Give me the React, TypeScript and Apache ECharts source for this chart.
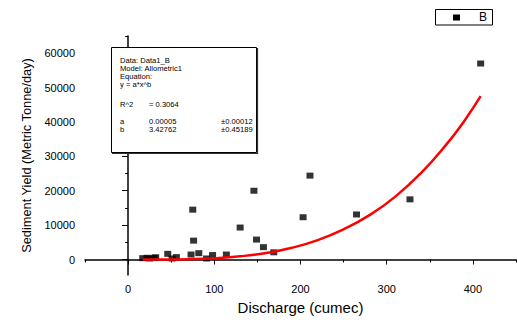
import React, { useEffect, useRef } from "react";
import * as echarts from "echarts";

// Scatter data: [discharge, sediment yield]
const discharge = [17, 22, 25, 30, 32, 46, 51, 56, 73, 75, 76, 82, 91, 98, 114, 130, 146, 149, 157, 169, 203, 211, 265, 327, 409];
const sediment = [400, 500, 300, 500, 650, 1650, 300, 700, 1450, 14500, 5500, 1850, 300, 1300, 1450, 9300, 20000, 5800, 3600, 2100, 12300, 24400, 13100, 17500, 57000];

// Fitted allometric curve
const fitX = [17, 40, 70, 100, 130, 160, 190, 220, 250, 280, 310, 340, 370, 390, 409];
const fitY = [1, 16, 112, 380, 935, 1900, 3420, 5650, 8800, 12900, 18300, 25200, 33700, 40300, 47500];

const xTicks = [0, 100, 200, 300, 400];
const xMinorTicks = [-50, 50, 150, 250, 350, 450];
const yTicks = [0, 10000, 20000, 30000, 40000, 50000, 60000];
const yMinorTicks = [5000, 15000, 25000, 35000, 45000, 55000, 65000];

const boxLines = ["Data: Data1_B", "Model: Allometric1", "Equation:", "y = a*x^b"];
const r2Row = ["R^2", "= 0.3064"];
const paramRows = [
  ["a", "0.00005", "\u00b10.00012"],
  ["b", "3.42762", "\u00b10.45189"],
];

const FONT = "Liberation Sans, Arial, sans-serif";

export default function App() {
  const ref = useRef<HTMLDivElement>(null);
  useEffect(() => {
    if (!ref.current) return;
    const chart = echarts.init(ref.current, null, { renderer: "svg" });
    const scatter = discharge.map((x, i) => [x, sediment[i]]);
    const fit = fitX.map((x, i) => [x, fitY[i]]);
    const axisCommon = {
      axisLine: { show: true, lineStyle: { color: "#000", width: 1.5 } },
      splitLine: { show: false },
    };
    const tStyle = { fontFamily: FONT, fontSize: 8, fill: "#000", verticalAlign: "middle" };
    const SX = 0.95;
    const txt = (x: number, y: number, t: string) => ({
      type: "text",
      x,
      y,
      scaleX: SX,
      style: { ...tStyle, text: t },
      z: 11,
    });
    const graphics: any[] = [
      {
        type: "rect",
        shape: { x: 111.5, y: 47.5, width: 145, height: 105 },
        style: { fill: "#fff", stroke: "#000", lineWidth: 1 },
        z: 10,
      },
      {
        type: "polyline",
        shape: { points: [[257.5, 48], [257.5, 153.5], [112, 153.5]] },
        style: { stroke: "#333", lineWidth: 1.2, fill: null },
        z: 10,
      },
      // legend
      {
        type: "rect",
        shape: { x: 435.5, y: 9.5, width: 57, height: 15.5 },
        style: { fill: "#fff", stroke: "#000", lineWidth: 1 },
        z: 10,
      },
      { type: "rect", shape: { x: 453, y: 14.5, width: 7, height: 6 }, style: { fill: "#000" }, z: 11 },
      {
        type: "text",
        x: 479,
        y: 11,
        style: { fontFamily: FONT, fontSize: 12, fill: "#000", text: "B" },
        z: 11,
      },
    ];
    boxLines.forEach((t, i) => graphics.push(txt(120, 60 + i * 8, t)));
    graphics.push(txt(120, 104, r2Row[0]));
    graphics.push(txt(149, 104, r2Row[1]));
    paramRows.forEach((row, i) => {
      graphics.push(txt(120, 121 + i * 8, row[0]));
      graphics.push(txt(149, 121 + i * 8, row[1]));
      graphics.push(txt(221, 121 + i * 8, row[2]));
    });

    const fmt = (v: number) => String(v);

    chart.setOption({
      animation: false,
      grid: { left: 85, right: 1, top: 36, bottom: 41 },
      xAxis: [
        {
          type: "value",
          min: -50,
          max: 450,
          ...axisCommon,
          name: "Discharge (cumec)",
          nameLocation: "middle",
          nameGap: 25,
          nameTextStyle: { fontFamily: FONT, fontSize: 15, color: "#000" },
          axisTick: { show: true, length: 5, lineStyle: { color: "#000" }, customValues: xTicks },
          axisLabel: { fontFamily: FONT, fontSize: 11, color: "#000", margin: 8, customValues: xTicks, formatter: fmt },
        },
        {
          type: "value",
          min: -50,
          max: 450,
          position: "bottom",
          axisLine: { show: false },
          splitLine: { show: false },
          axisTick: { show: true, length: 3, lineStyle: { color: "#000" }, customValues: xMinorTicks },
          axisLabel: { show: false },
        },
      ],
      yAxis: [
        {
          type: "value",
          min: -4500,
          max: 65000,
          ...axisCommon,
          name: "Sediment Yield (Metric Tonne/day)",
          nameLocation: "middle",
          nameGap: 52,
          nameTextStyle: { fontFamily: FONT, fontSize: 12.8, color: "#000" },
          axisTick: { show: true, length: 6, lineStyle: { color: "#000" }, customValues: yTicks },
          axisLabel: { fontFamily: FONT, fontSize: 11, color: "#000", margin: 10, customValues: yTicks, formatter: fmt },
        },
        {
          type: "value",
          min: -4500,
          max: 65000,
          position: "left",
          axisLine: { show: false },
          splitLine: { show: false },
          axisTick: { show: true, length: 3, lineStyle: { color: "#000" }, customValues: yMinorTicks },
          axisLabel: { show: false },
        },
      ],
      series: [
        {
          name: "B",
          type: "scatter",
          data: scatter,
          symbol: "rect",
          symbolSize: [7, 6],
          itemStyle: { color: "#000" },
          z: 2,
        },
        {
          name: "Fit",
          type: "line",
          data: fit,
          smooth: true,
          showSymbol: false,
          lineStyle: { color: "#ff0000", width: 2.5 },
          z: 3,
        },
      ],
      graphic: graphics,
    });
    return () => chart.dispose();
  }, []);
  return <div ref={ref} style={{ width: 517, height: 320, position: "absolute", left: 0, top: 0 }} />;
}
